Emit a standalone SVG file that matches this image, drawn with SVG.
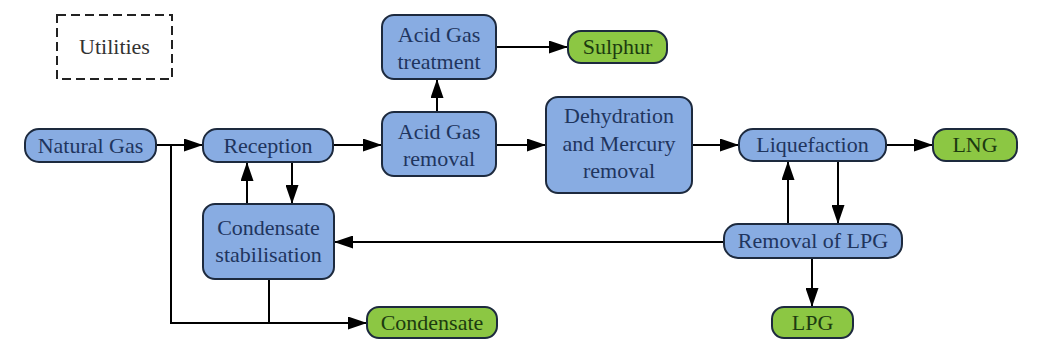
<svg xmlns="http://www.w3.org/2000/svg" width="1042" height="360" viewBox="0 0 1042 360" font-family="Liberation Serif, Tinos, Noto Serif, DejaVu Serif, FreeSerif, Times New Roman, Times, serif">
<style>
.b{fill:#88ace2;stroke:#1d2a3e;stroke-width:2}
.g{fill:#8cc743;stroke:#1d2a3e;stroke-width:2}
text{font-size:22px;text-anchor:middle}
.t{fill:#1f355e}
.tg{fill:#1c3b10}
.c{fill:none;stroke:#000;stroke-width:2}
</style>
<defs>
<marker id="a" markerUnits="userSpaceOnUse" markerWidth="19" markerHeight="13" refX="19" refY="6.5" orient="auto">
<path d="M0,0 L19,6.5 L0,13 Z" fill="#000"/>
</marker>
</defs>
<rect width="1042" height="360" fill="#fff"/>
<g id="connectors">
<path class="c" d="M156,145 H203" marker-end="url(#a)"/>
<path class="c" d="M171,145 V323 H367" marker-end="url(#a)"/>
<path class="c" d="M269,279 V323"/>
<path class="c" d="M333,145 H382" marker-end="url(#a)"/>
<path class="c" d="M437,112 V79" marker-end="url(#a)"/>
<path class="c" d="M496,47 H568" marker-end="url(#a)"/>
<path class="c" d="M496,145 H546" marker-end="url(#a)"/>
<path class="c" d="M692,145 H739" marker-end="url(#a)"/>
<path class="c" d="M886,145 H933" marker-end="url(#a)"/>
<path class="c" d="M247,204 V162" marker-end="url(#a)"/>
<path class="c" d="M292,162 V204" marker-end="url(#a)"/>
<path class="c" d="M788,224 V161" marker-end="url(#a)"/>
<path class="c" d="M838,161 V224" marker-end="url(#a)"/>
<path class="c" d="M724,242 H334" marker-end="url(#a)"/>
<path class="c" d="M812,258 V307" marker-end="url(#a)"/>
</g>
<g id="utilities">
<rect x="57" y="15" width="115" height="64" fill="none" stroke="#222" stroke-width="2" stroke-dasharray="9,5"/>
<text x="114.5" y="54" fill="#333">Utilities</text>
</g>
<g id="natural-gas">
<rect class="b" x="25" y="129" width="131" height="33" rx="14"/>
<text class="t" x="90.5" y="153">Natural Gas</text>
</g>
<g id="reception">
<rect class="b" x="203" y="129" width="130" height="33" rx="14"/>
<text class="t" x="268" y="153">Reception</text>
</g>
<g id="acid-gas-treatment">
<rect class="b" x="382" y="15" width="114" height="64" rx="12"/>
<text class="t" x="439" y="42">Acid Gas</text>
<text class="t" x="439" y="69">treatment</text>
</g>
<g id="acid-gas-removal">
<rect class="b" x="382" y="112" width="114" height="64" rx="12"/>
<text class="t" x="439" y="139">Acid Gas</text>
<text class="t" x="439" y="166">removal</text>
</g>
<g id="sulphur">
<rect class="g" x="568" y="31" width="99" height="32" rx="13"/>
<text class="tg" x="617.5" y="54">Sulphur</text>
</g>
<g id="dehydration">
<rect class="b" x="546" y="97" width="146" height="96" rx="12"/>
<text class="t" x="619" y="123">Dehydration</text>
<text class="t" x="619" y="151">and Mercury</text>
<text class="t" x="619" y="178">removal</text>
</g>
<g id="liquefaction">
<rect class="b" x="739" y="129" width="147" height="32" rx="14"/>
<text class="t" x="812.5" y="152">Liquefaction</text>
</g>
<g id="lng">
<rect class="g" x="933" y="129" width="84" height="32" rx="13"/>
<text class="tg" x="975" y="152">LNG</text>
</g>
<g id="condensate-stabilisation">
<rect class="b" x="203" y="204" width="131" height="75" rx="12"/>
<text class="t" x="268.5" y="235">Condensate</text>
<text class="t" x="268.5" y="262">stabilisation</text>
</g>
<g id="condensate">
<rect class="g" x="367" y="307" width="130" height="31" rx="12"/>
<text class="tg" x="432" y="330">Condensate</text>
</g>
<g id="removal-of-lpg">
<rect class="b" x="724" y="224" width="178" height="34" rx="14"/>
<text class="t" x="813" y="248">Removal of LPG</text>
</g>
<g id="lpg">
<rect class="g" x="772" y="307" width="81" height="31" rx="12"/>
<text class="tg" x="812.5" y="330">LPG</text>
</g>
</svg>
